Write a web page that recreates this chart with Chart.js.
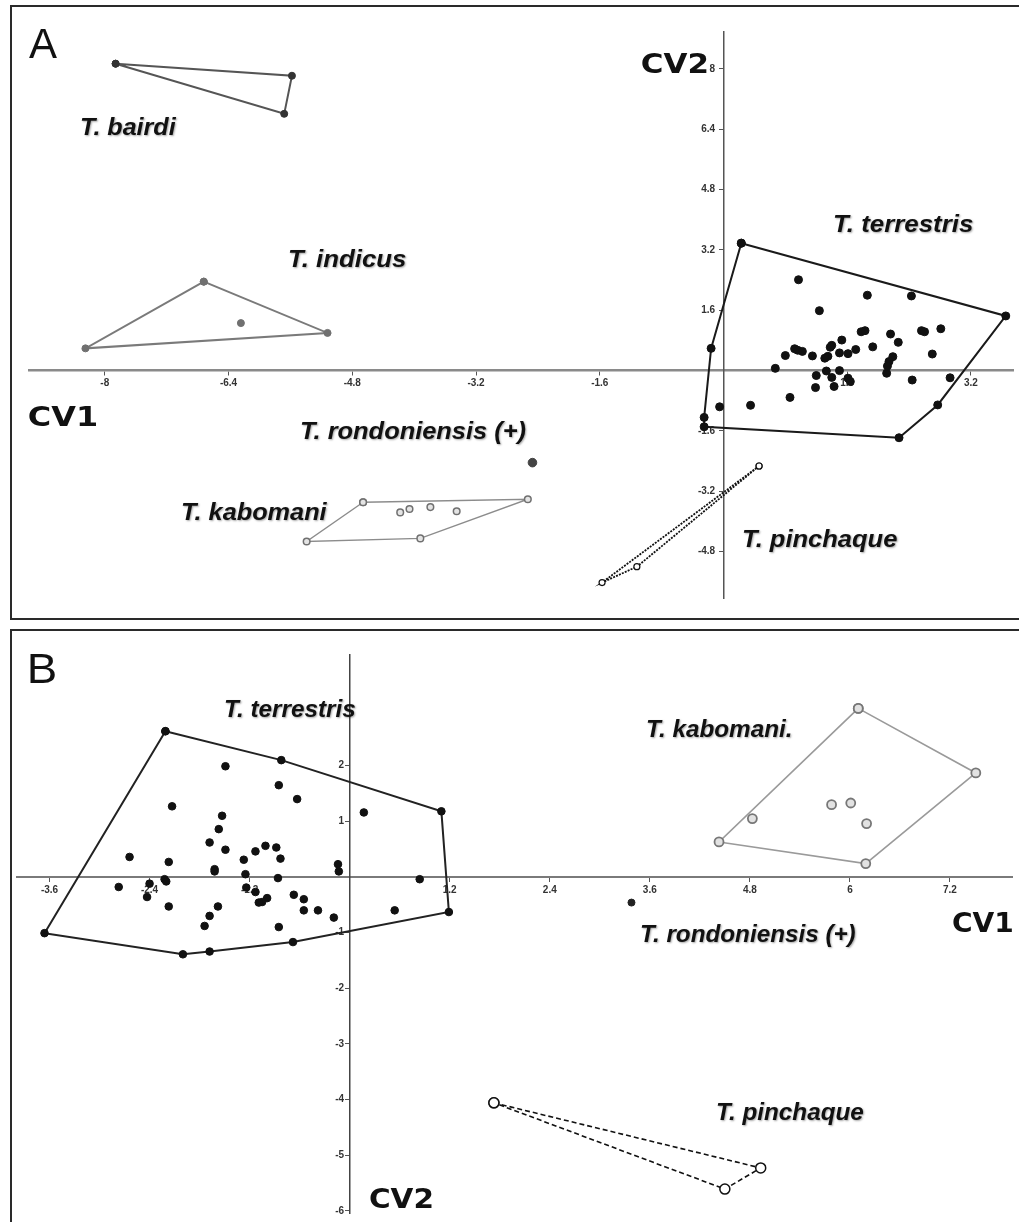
<!DOCTYPE html>
<html><head><meta charset="utf-8">
<script src="https://cdn.jsdelivr.net/npm/chart.js@4.4.0/dist/chart.umd.min.js"></script>
<style>
html,body{margin:0;padding:0;background:#fff;width:1019px;height:1222px;overflow:hidden;position:relative;}
canvas{position:absolute;left:0;}
#cA{top:0}
#cB{top:622px}
</style></head><body>
<canvas id="cA" width="1019" height="622"></canvas>
<canvas id="cB" width="1019" height="600"></canvas>
<script>
// ---------- Panel A data (CV1, CV2) ----------
const A_xTicks = [-8, -6.4, -4.8, -3.2, -1.6, 1.6, 3.2];
const A_yTicks = [8, 6.4, 4.8, 3.2, 1.6, -1.6, -3.2, -4.8];
const A_xRange = [-8.98, 3.75];
const A_yRange = [-6.03, 8.98];

const A_bairdi = [[-7.86, 8.14], [-5.58, 7.82], [-5.68, 6.81]];
const A_indicusHull = [[-6.72, 2.36], [-5.12, 1.00], [-8.25, 0.59]];
const A_indicusInner = [[-6.24, 1.26]];
const A_terrestrisHull = [[0.23, 3.38], [3.65, 1.45], [2.77, -0.91], [2.27, -1.78], [-0.25, -1.49], [-0.25, -1.24], [-0.16, 0.59]];
const A_terrestrisInner = [[0.97, 2.41], [1.86, 2.00], [2.43, 1.98], [1.24, 1.59], [1.78, 1.03], [1.83, 1.06], [2.16, 0.97],
  [2.56, 1.06], [2.60, 1.03], [2.81, 1.11], [2.26, 0.75], [1.93, 0.63], [1.53, 0.81], [1.40, 0.67], [1.38, 0.62],
  [1.71, 0.56], [1.61, 0.45], [1.50, 0.47], [1.35, 0.38], [1.31, 0.33], [1.15, 0.39], [0.92, 0.58], [0.96, 0.54],
  [1.02, 0.51], [0.80, 0.40], [0.67, 0.06], [2.70, 0.44], [2.19, 0.37], [2.14, 0.24], [2.12, 0.12], [2.11, -0.07],
  [2.44, -0.25], [2.93, -0.19], [1.33, -0.01], [1.50, 0.00], [1.20, -0.13], [1.40, -0.18], [1.43, -0.42], [1.61, -0.20],
  [1.64, -0.29], [1.19, -0.45], [0.86, -0.71], [0.35, -0.92], [-0.05, -0.96]];
const A_kabomaniHull = [[-4.66, -3.49], [-2.53, -3.41], [-3.92, -4.45], [-5.39, -4.53]];
const A_kabomaniInner = [[-4.18, -3.76], [-4.06, -3.67], [-3.79, -3.62], [-3.45, -3.73]];
const A_rondoniensis = [[-2.47, -2.44]];
const A_pinchaque = [[0.46, -2.53], [-1.12, -5.20], [-1.57, -5.62]];

// ---------- Panel B data (CV1, CV2) ----------
const B_xTicks = [-3.6, -2.4, -1.2, 1.2, 2.4, 3.6, 4.8, 6, 7.2];
const B_yTicks = [2, 1, -1, -2, -3, -4, -5, -6];
const B_xRange = [-3.99, 7.95];
const B_yRange = [-6.04, 3.99];

const B_terrestrisHull = [[-2.21, 2.62], [-0.82, 2.10], [1.10, 1.18], [1.19, -0.63], [-0.68, -1.17], [-1.68, -1.34], [-2.00, -1.39], [-3.66, -1.01]];
const B_terrestrisInner = [[-1.49, 1.99], [-0.85, 1.65], [-0.63, 1.40], [-2.13, 1.27], [0.17, 1.16], [-1.53, 1.10], [-1.57, 0.86],
  [-1.68, 0.62], [-1.49, 0.49], [-1.01, 0.56], [-0.88, 0.53], [-1.13, 0.46], [-0.83, 0.33], [-1.27, 0.31], [-2.64, 0.36],
  [-2.17, 0.27], [-1.62, 0.14], [-1.62, 0.10], [-1.25, 0.05], [-0.86, -0.02], [-0.14, 0.23], [-0.13, 0.10], [0.84, -0.04],
  [-2.22, -0.04], [-2.20, -0.08], [-2.77, -0.18], [-2.40, -0.12], [-2.43, -0.36], [-2.17, -0.53], [-1.24, -0.19], [-1.13, -0.27],
  [-0.99, -0.38], [-1.05, -0.45], [-1.09, -0.46], [-0.67, -0.32], [-0.55, -0.40], [-0.55, -0.60], [-0.38, -0.60], [-0.19, -0.73],
  [0.54, -0.60], [-1.58, -0.53], [-1.68, -0.70], [-1.74, -0.88], [-0.85, -0.90]];
const B_kabomaniHull = [[6.10, 3.03], [7.51, 1.87], [6.19, 0.24], [4.43, 0.63]];
const B_kabomaniInner = [[4.83, 1.05], [5.78, 1.30], [6.01, 1.33], [6.20, 0.96]];
const B_rondoniensis = [[3.38, -0.46]];
const B_pinchaque = [[1.73, -4.06], [4.93, -5.23], [4.50, -5.61]];

// ---------- helpers ----------
const toXY = arr => arr.map(p => ({x: p[0], y: p[1]}));
const closed = arr => toXY(arr.concat([arr[0]]));

function hullSet(arr, s) {
  return {
    data: closed(arr), showLine: true, fill: false, tension: 0, clip: false,
    borderColor: s.line, borderWidth: s.lw, borderDash: s.dash || [],
    pointRadius: s.r, pointBackgroundColor: s.fill, pointBorderColor: s.stroke,
    pointBorderWidth: s.pw || 1
  };
}
function ptSet(arr, s) {
  return {
    data: toXY(arr), showLine: false, clip: false,
    pointRadius: s.r, pointBackgroundColor: s.fill, pointBorderColor: s.stroke,
    pointBorderWidth: s.pw || 1
  };
}
function axis(range, ticks, crossId, bColor, bWidth, pad, suffix) {
  return {
    type: 'linear', min: range[0], max: range[1],
    position: {[crossId]: 0},
    afterBuildTicks: sc => { sc.ticks = ticks.map(v => ({value: v})); },
    ticks: {
      autoSkip: false, maxRotation: 0, minRotation: 0, padding: pad, color: '#333',
      font: {family: '"Liberation Sans", Arial, sans-serif', size: 10, weight: 'bold'},
      callback: v => String(v) + (suffix || '')
    },
    grid: {display: true, drawOnChartArea: false, drawTicks: true, tickLength: 4, tickColor: '#555', tickWidth: 1},
    border: {display: true, color: bColor, width: bWidth}
  };
}
function drawLabel(ctx, t) {
  ctx.save();
  ctx.font = t.font;
  const m = ctx.measureText(t.text);
  const ink = m.actualBoundingBoxLeft + m.actualBoundingBoxRight;
  const sx = t.w / ink;
  ctx.translate(t.x, t.y);
  ctx.scale(sx, 1);
  ctx.fillStyle = '#111';
  ctx.textAlign = 'left';
  ctx.textBaseline = 'alphabetic';
  if (t.shadow) {
    ctx.shadowColor = 'rgba(0,0,0,0.35)';
    ctx.shadowBlur = 2;
    ctx.shadowOffsetX = 1;
    ctx.shadowOffsetY = 1;
  }
  ctx.fillText(t.text, m.actualBoundingBoxLeft, 0);
  ctx.restore();
}

const SP_A = 'italic bold 24px "Liberation Sans", Arial, sans-serif';
const SP_B = 'italic bold 23px "Liberation Sans", Arial, sans-serif';
const CV = 'bold 27px "DejaVu Sans", Verdana, sans-serif';
const PANEL = '42px "Liberation Sans", Arial, sans-serif';

const labelsA = [
  {text: 'A', x: 29, y: 58, w: 28, font: PANEL},
  {text: 'T. bairdi', x: 81, y: 135, w: 96, font: SP_A, shadow: true},
  {text: 'T. indicus', x: 289, y: 267, w: 117, font: SP_A, shadow: true},
  {text: 'T. terrestris', x: 834, y: 232, w: 139, font: SP_A, shadow: true},
  {text: 'T. rondoniensis (+)', x: 301, y: 439, w: 225, font: SP_A, shadow: true},
  {text: 'T. kabomani', x: 182, y: 520, w: 146, font: SP_A, shadow: true},
  {text: 'T. pinchaque', x: 743, y: 547, w: 154, font: SP_A, shadow: true},
  {text: 'CV2', x: 642, y: 73, w: 65, font: CV},
  {text: 'CV1', x: 29, y: 426, w: 67, font: CV}
];
const offB = 622;
const labelsB = [
  {text: 'B', x: 30, y: 683 - offB, w: 25, font: PANEL},
  {text: 'T. terrestris', x: 225, y: 717 - offB, w: 130, font: SP_B, shadow: true},
  {text: 'T. kabomani.', x: 647, y: 737 - offB, w: 144, font: SP_B, shadow: true},
  {text: 'T. rondoniensis (+)', x: 641, y: 942 - offB, w: 214, font: SP_B, shadow: true},
  {text: 'T. pinchaque', x: 717, y: 1120 - offB, w: 147, font: SP_B, shadow: true},
  {text: 'CV1', x: 953, y: 932 - offB, w: 59, font: CV},
  {text: 'CV2', x: 370, y: 1208 - offB, w: 62, font: CV}
];

function decor(frame, labels) {
  return {
    id: 'decor',
    beforeDraw(chart) {
      const ctx = chart.ctx;
      ctx.save();
      ctx.fillStyle = '#fff';
      ctx.fillRect(0, 0, chart.width, chart.height);
      ctx.strokeStyle = '#2a2a2a';
      ctx.lineWidth = 2;
      ctx.strokeRect(frame[0], frame[1], frame[2], frame[3]);
      ctx.restore();
    },
    afterDraw(chart) {
      labels.forEach(t => drawLabel(chart.ctx, t));
    }
  };
}

const common = {
  responsive: false, animation: false, devicePixelRatio: 1, events: [],
  plugins: {legend: {display: false}, tooltip: {enabled: false}}
};

// ---------- Chart A ----------
new Chart(document.getElementById('cA'), {
  type: 'scatter',
  data: {datasets: [
    hullSet(A_bairdi, {line: '#555', lw: 2, r: 3.5, fill: '#333', stroke: '#333'}),
    hullSet(A_indicusHull, {line: '#7a7a7a', lw: 2, r: 3.5, fill: '#707070', stroke: '#707070'}),
    ptSet(A_indicusInner, {r: 3.5, fill: '#707070', stroke: '#707070'}),
    hullSet(A_kabomaniHull, {line: '#8c8c8c', lw: 1.4, r: 3.3, fill: '#e4e4e4', stroke: '#707070', pw: 1.5}),
    ptSet(A_kabomaniInner, {r: 3.3, fill: '#e4e4e4', stroke: '#707070', pw: 1.5}),
    ptSet(A_rondoniensis, {r: 4.3, fill: '#444', stroke: '#444'}),
    hullSet(A_pinchaque, {line: '#111', lw: 1.8, dash: [2, 1.2], r: 3, fill: '#fff', stroke: '#111', pw: 1.2}),
    hullSet(A_terrestrisHull, {line: '#1a1a1a', lw: 2, r: 4, fill: '#111', stroke: '#111'}),
    ptSet(A_terrestrisInner, {r: 4, fill: '#111', stroke: '#111'})
  ]},
  options: Object.assign({}, common, {
    layout: {padding: {left: 29, top: 32, right: 0, bottom: 24}},
    scales: {
      x: axis(A_xRange, A_xTicks, 'y', '#8a8a8a', 2.5, 3, ''),
      y: axis(A_yRange, A_yTicks, 'x', '#555', 1.5, 4, '   ')
    }
  }),
  plugins: [decor([11, 6, 1100, 613], labelsA)]
});

// ---------- Chart B ----------
new Chart(document.getElementById('cB'), {
  type: 'scatter',
  data: {datasets: [
    hullSet(B_kabomaniHull, {line: '#9a9a9a', lw: 1.6, r: 4.5, fill: '#e2e2e2', stroke: '#777', pw: 1.8}),
    ptSet(B_kabomaniInner, {r: 4.5, fill: '#e2e2e2', stroke: '#777', pw: 1.8}),
    ptSet(B_rondoniensis, {r: 3.5, fill: '#222', stroke: '#222'}),
    hullSet(B_pinchaque, {line: '#111', lw: 1.6, dash: [5, 3], r: 5, fill: '#fff', stroke: '#111', pw: 1.5}),
    hullSet(B_terrestrisHull, {line: '#222', lw: 2, r: 3.8, fill: '#111', stroke: '#111'}),
    ptSet(B_terrestrisInner, {r: 3.8, fill: '#111', stroke: '#111'})
  ]},
  options: Object.assign({}, common, {
    layout: {padding: {left: 17, top: 33, right: 0, bottom: 0}},
    scales: {
      x: axis(B_xRange, B_xTicks, 'y', '#7a7a7a', 2, 3, ''),
      y: axis(B_yRange, B_yTicks, 'x', '#444', 1.5, 3, '  ')
    }
  }),
  plugins: [decor([11, 8, 1100, 700], labelsB)]
});
</script>
</body></html>
